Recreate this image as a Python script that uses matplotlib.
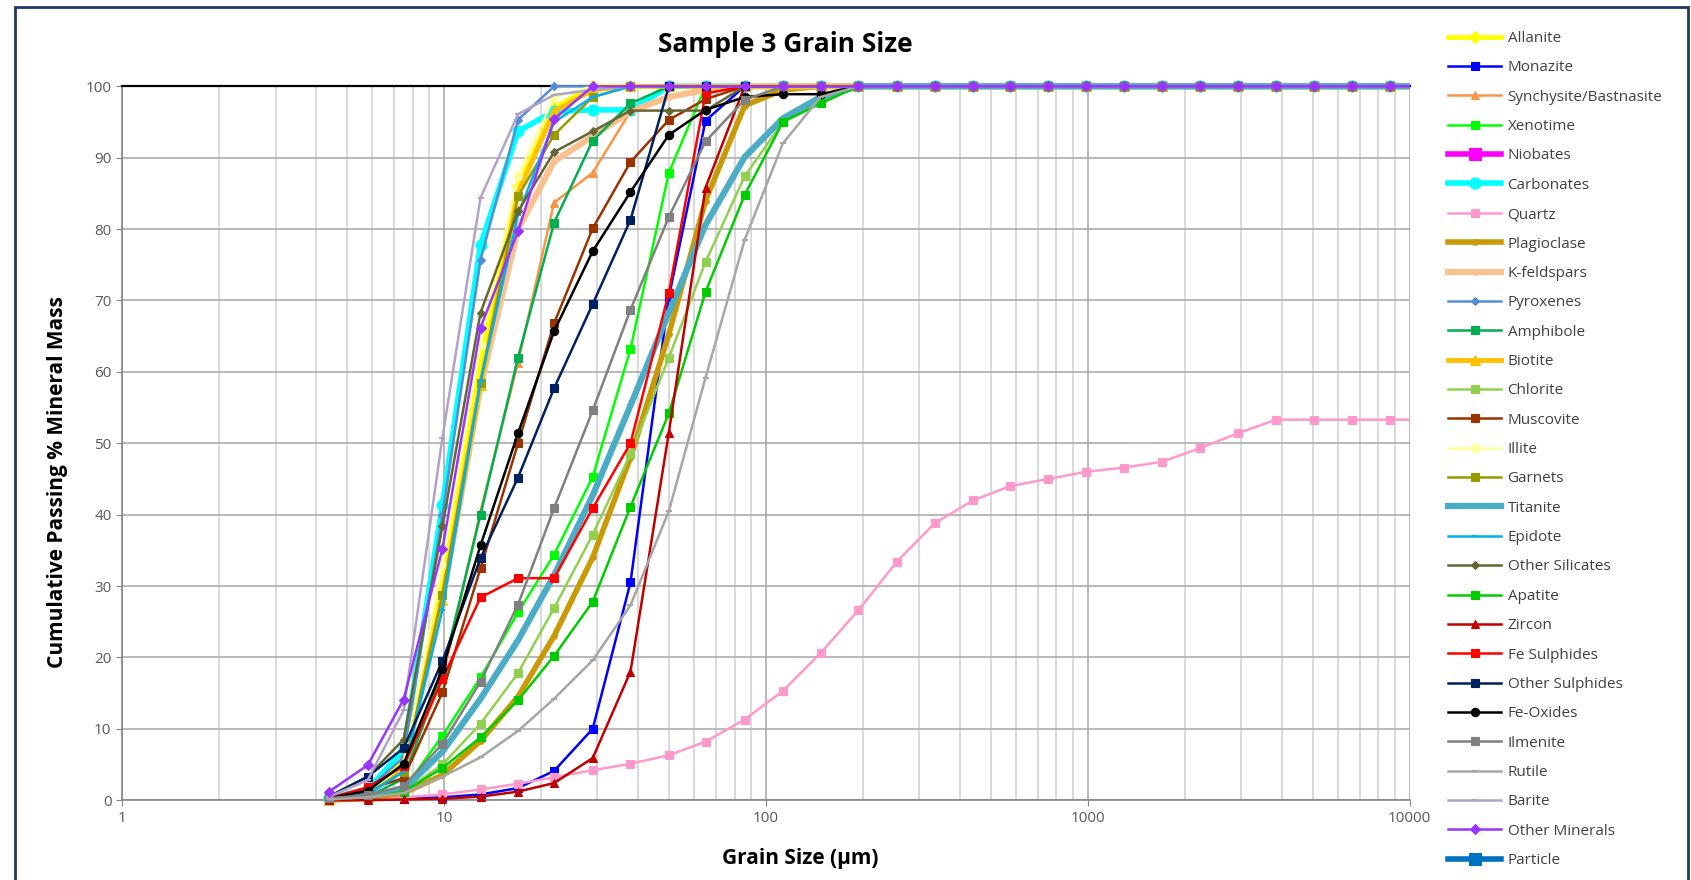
import matplotlib
matplotlib.use('Agg')
import matplotlib.pyplot as plt
from matplotlib.patches import Rectangle
from matplotlib.ticker import FixedLocator, NullFormatter

plt.rcParams['font.family'] = ['Open Sans', 'DejaVu Sans']

#------------------------------------------------------------------------------
# Data (grain size in um, cumulative passing %)
#------------------------------------------------------------------------------

sizes = [4.4, 5.8, 7.5, 9.9, 13, 17, 22, 29, 38, 50, 65, 86, 113, 148, 194,
         255, 335, 440, 575, 755, 990, 1300, 1700, 2230, 2930, 3840, 5040,
         6600, 8660, 11350]

allanite = [0.3, 1.0, 5.5, 30, 62, 86, 97, 100]
monazite = [0, 0.1, 0.2, 0.4, 0.8, 1.7, 4.1, 10.0, 30.5, 70.5, 95.2, 100]
synchysite = [0.5, 1.2, 4, 17, 40.5, 61.3, 83.7, 87.9, 96.5, 100]
xenotime = [0.2, 0.5, 1.5, 9.0, 17.2, 26.3, 34.4, 45.3, 63.2, 87.9, 100]
niobates = []
carbonates = [0.3, 1.5, 7, 41.4, 77.8, 93.7, 96.5, 96.7, 96.7, 100]
quartz = [0, 0.2, 0.4, 0.8, 1.5, 2.3, 3.2, 4.2, 5.1, 6.3, 8.2, 11.3, 15.3,
          20.6, 26.6, 33.4, 38.8, 42.0, 44.0, 45.0, 46.0, 46.6, 47.4, 49.3,
          51.4, 53.3, 53.3, 53.3, 53.3, 53.3]
plagioclase = [0, 0.3, 1, 3.5, 8.3, 14.5, 23, 34, 48, 65.3, 84, 97.3, 99.5, 100]
kfeldspars = [0.2, 1, 4.5, 28, 58, 80, 89.5, 93, 96.5, 98.5, 99.5, 100]
pyroxenes = [0.3, 1.5, 6, 40, 75.7, 95.3, 100]
amphibole = [0, 0.5, 3, 18, 40, 62, 80.9, 92.4, 97.6, 100]
biotite = [0, 0.7, 5, 28.1, 58.2, 85.1, 96.5, 99.5, 100]
chlorite = [0.1, 0.4, 1.2, 5, 10.7, 17.8, 26.9, 37.2, 48.5, 62, 75.4, 87.4, 95, 98, 100]
muscovite = [0.3, 1.5, 3.1, 15.1, 32.5, 50, 66.8, 80.1, 89.4, 95.3, 98.2, 100]
illite = [0.3, 1, 5, 33, 63.8, 87.5, 98.5, 100]
garnets = [0.3, 1, 4, 28.8, 58.5, 84.6, 93.2, 98.5, 100]
titanite = [0.2, 0.6, 1.5, 6.8, 14.2, 22.4, 31.5, 42.7, 55.3, 68.3, 80.6, 90.1, 95.5, 98.5, 100]
epidote = [0.2, 0.8, 4, 26.7, 58.7, 82, 95, 98.5, 100]
other_silicates = [0.5, 3.3, 8.5, 38.4, 68.3, 82.5, 90.8, 93.7, 96.6, 96.6, 96.6, 100]
apatite = [0.1, 0.3, 1.2, 4.5, 8.8, 14, 20.2, 27.8, 41.1, 54.2, 71.2, 84.8, 95, 97.6, 100]
zircon = [0, 0, 0.1, 0.2, 0.5, 1.2, 2.4, 5.9, 18, 51.5, 85.8, 100]
fe_sulphides = [0.3, 1.8, 4.8, 17, 28.4, 31.1, 31.1, 40.9, 50, 71.1, 99, 100]
other_sulphides = [0.5, 3.3, 7.3, 19.5, 33.9, 45.2, 57.7, 69.5, 81.3, 100]
fe_oxides = [0.3, 1.3, 5.1, 18.4, 35.7, 51.4, 65.7, 76.9, 85.2, 93.2, 96.7, 98.5, 98.9, 98.9, 100]
ilmenite = [0.3, 0.7, 2, 7.9, 16.6, 27.4, 40.9, 54.6, 68.7, 81.7, 92.3, 98.1, 100]
rutile = [0.1, 0.4, 1, 3.3, 6, 9.7, 14.2, 19.6, 27.3, 40.5, 59.2, 78.5, 92, 98.5, 100]
barite = [0.5, 2.8, 12.6, 50.8, 84.4, 96.1, 98.8, 99.5, 100]
other_minerals = [1.2, 4.9, 14.1, 35.2, 66.2, 79.7, 95.4, 100]
particle = []

# (label, values, color, marker, markersize, linewidth)
series = [
    ('Allanite', allanite, '#FFFF00', 'D', 6, 3.5),
    ('Monazite', monazite, '#0000FF', 's', 6, 1.8),
    ('Synchysite/Bastnasite', synchysite, '#F79646', '^', 6, 1.8),
    ('Xenotime', xenotime, '#00FF00', 's', 6, 1.8),
    ('Niobates', niobates, '#FF00FF', 's', 9, 4),
    ('Carbonates', carbonates, '#00FFFF', 'o', 8, 4),
    ('Quartz', quartz, '#FF99CC', 's', 6, 1.8),
    ('Plagioclase', plagioclase, '#C99A06', 'o', 4, 4),
    ('K-feldspars', kfeldspars, '#FAC090', 'o', 4, 4.5),
    ('Pyroxenes', pyroxenes, '#558ED5', 'D', 4.5, 1.8),
    ('Amphibole', amphibole, '#00B050', 's', 6, 1.8),
    ('Biotite', biotite, '#FFC000', '^', 7, 3.5),
    ('Chlorite', chlorite, '#92D050', 's', 6, 1.8),
    ('Muscovite', muscovite, '#993300', 's', 6, 1.8),
    ('Illite', illite, '#FFFF99', 'o', 6, 1.8),
    ('Garnets', garnets, '#999900', 's', 6, 1.8),
    ('Titanite', titanite, '#4BACC6', '_', 5, 4.5),
    ('Epidote', epidote, '#00B0F0', '_', 5, 1.8),
    ('Other Silicates', other_silicates, '#666633', 'D', 4.5, 1.8),
    ('Apatite', apatite, '#00CC00', 's', 6, 1.8),
    ('Zircon', zircon, '#C00000', '^', 6, 1.8),
    ('Fe Sulphides', fe_sulphides, '#FF0000', 's', 6, 1.8),
    ('Other Sulphides', other_sulphides, '#002060', 's', 6, 1.8),
    ('Fe-Oxides', fe_oxides, '#000000', 'o', 6, 1.8),
    ('Ilmenite', ilmenite, '#808080', 's', 6, 1.8),
    ('Rutile', rutile, '#A6A6A6', '_', 4, 1.8),
    ('Barite', barite, '#B3A2C7', '_', 4, 1.8),
    ('Other Minerals', other_minerals, '#9933FF', 'D', 5, 1.8),
    ('Particle', particle, '#0070C0', 's', 9, 4),
]

#------------------------------------------------------------------------------
# Plot
#------------------------------------------------------------------------------

fig = plt.figure(figsize=(16.91, 8.80), dpi=100)
ax = fig.add_axes([0.0721, 0.0907, 0.7615, 0.8112])

clip = Rectangle((0, -0.03), 1, 1.06, transform=ax.transAxes, visible=False)
ax.add_patch(clip)

for i, (label, vals, color, marker, ms, lw) in enumerate(series):
    # cumulative curve stays at 100 once it gets there
    if vals and len(vals) < len(sizes):
        vals = vals + [100] * (len(sizes) - len(vals))
    line, = ax.plot(sizes[:len(vals)], vals, color=color, lw=lw, marker=marker,
                    markersize=ms, markeredgewidth=1.5 if marker == '_' else 0.8,
                    markeredgecolor=color, label=label, zorder=3 + i * 0.01,
                    solid_joinstyle='round')
    line.set_clip_path(clip)

ax.set_xscale('log')
ax.set_xlim(1, 10000)
ax.set_ylim(0, 100)
ax.set_yticks(range(0, 101, 10))
ax.xaxis.set_major_locator(FixedLocator([1, 10, 100, 1000, 10000]))
ax.set_xticklabels(['1', '10', '100', '1000', '10000'])
minors = [m * 10 ** d for d in range(4) for m in range(2, 10)]
ax.xaxis.set_minor_locator(FixedLocator(minors))
ax.xaxis.set_minor_formatter(NullFormatter())

ax.grid(True, which='major', color='#A6A6A6', lw=1.1, zorder=0)
ax.grid(True, which='minor', axis='x', color='#D0D0D0', lw=1.1, zorder=0)
ax.set_axisbelow(True)

ax.spines['right'].set_visible(False)
ax.spines['top'].set_color('black')
ax.spines['top'].set_linewidth(1.6)
ax.spines['left'].set_color('#868686')
ax.spines['bottom'].set_color('#868686')
ax.spines['left'].set_linewidth(1.2)
ax.spines['bottom'].set_linewidth(1.2)
ax.tick_params(axis='both', which='major', labelsize=11, labelcolor='#595959',
               color='#868686', length=4)
ax.tick_params(axis='x', which='minor', length=0)

fig.text(785 / 1691, 1 - 44 / 880, 'Sample 3 Grain Size', ha='center', va='center',
         fontsize=19, fontweight='bold', color='black')
fig.text(58 / 1691, 1 - 482 / 880, 'Cumulative Passing % Mineral Mass', ha='center',
         va='center', rotation=90, fontsize=15, fontweight='bold')
fig.text(800 / 1691, 1 - 858 / 880, 'Grain Size (µm)', ha='center', va='center',
         fontsize=15, fontweight='bold')

fig.legend(loc='upper left', bbox_to_anchor=(1448 / 1691, 1 - 31 / 880),
           frameon=False, fontsize=11, handlelength=3.5, handletextpad=0.4,
           labelspacing=0.94, borderpad=0, borderaxespad=0, labelcolor='#404040')

# outer chart border
fig.patches.append(Rectangle((15 / 1691, -0.05), 1673 / 1691, 1.05 - 7 / 880,
                             transform=fig.transFigure, fill=False,
                             edgecolor='#1F3864', lw=2))

fig.savefig('out.png', dpi=100)
plt.close(fig)
